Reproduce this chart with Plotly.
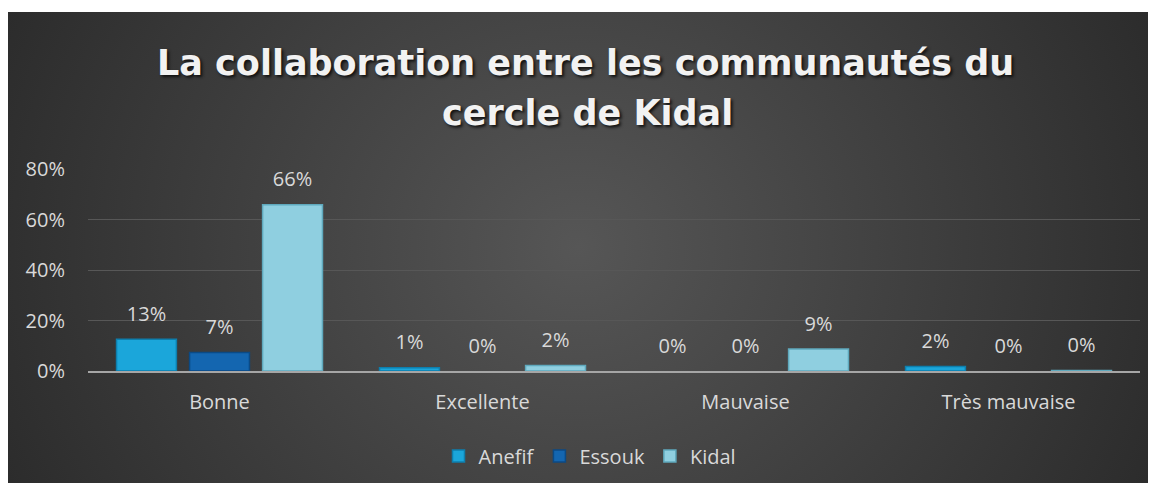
import base64
import plotly.graph_objects as go

categories = ["Bonne", "Excellente", "Mauvaise", "Très mauvaise"]
anefif = [0.126, 0.013, 0.0, 0.018]
essouk = [0.073, 0.0, 0.0, 0.0]
kidal = [0.658, 0.022, 0.087, 0.002]
series_names = ["Anefif", "Essouk", "Kidal"]
tick_vals = [0, 0.2, 0.4, 0.6, 0.8]
tick_text = ["0%", "20%", "40%", "60%", "80%"]

colors = ["#1ba6da", "#1466b0", "#8fcfe0"]
edge = ["#0d7fae", "#0b4a85", "#5fa9bd"]

# page body has an 8px margin: figure is placed at page (8, 8)
W, H = 1148, 481
ML, MR, MT, MB = 80, 16, 161, 118
PW, PH = W - ML - MR, H - MT - MB

svg = '''<svg xmlns="http://www.w3.org/2000/svg" width="1140" height="471" viewBox="0 0 1140 471" preserveAspectRatio="none">
<defs><radialGradient id="g" cx="50%" cy="50%" r="60%" gradientTransform="translate(0.5,0.5) scale(1,2.2) translate(-0.5,-0.5)">
<stop offset="0" stop-color="#565656"/><stop offset="1" stop-color="#282828"/></radialGradient></defs>
<rect width="1140" height="471" fill="url(#g)"/></svg>'''
src = "data:image/svg+xml;base64," + base64.b64encode(svg.encode()).decode()

FONT = "Open Sans"
TXT = "#d9d9d9"

fig = go.Figure()
for name, vals, c, e in zip(series_names, [anefif, essouk, kidal], colors, edge):
    fig.add_trace(go.Bar(
        name=name, x=categories, y=vals,
        marker=dict(color=c, line=dict(color=e, width=[1.5 if v > 0 else 0 for v in vals])),
        offsetgroup=name,
    ))
for name, vals in zip(series_names, [anefif, essouk, kidal]):
    fig.add_trace(go.Scatter(
        x=categories, y=vals, mode="markers+text",
        marker=dict(size=20, color="rgba(0,0,0,0)"),
        texttemplate="%{y:.0%}", textposition="top center",
        textfont=dict(family=FONT, size=20, color=TXT),
        showlegend=False, hoverinfo="skip", cliponaxis=False,
        offsetgroup=name,
    ))

# background panel (page x 8..1148, y 12..483 -> figure x 0..1140, y 4..475)
fig.add_layout_image(dict(
    source=src, xref="paper", yref="paper", x=(0 - ML) / PW, y=(H - MB - 4) / PH,
    sizex=1140 / PW, sizey=471 / PH, sizing="stretch",
    xanchor="left", yanchor="top", layer="below",
))

def py(page_y):
    return (H - MB - (page_y - 8)) / PH

def px(page_x):
    return ((page_x - 8) - ML) / PW

title_font = dict(family="DejaVu Sans", size=35, color="#f2f2f2", weight="bold",
                  shadow="2px 2px 3px #111111")
fig.add_annotation(text="La collaboration entre les communautés du", x=px(585), y=py(63),
                   xref="paper", yref="paper", showarrow=False, font=title_font,
                   xanchor="center", yanchor="middle")
fig.add_annotation(text="cercle de Kidal", x=px(587), y=py(113),
                   xref="paper", yref="paper", showarrow=False, font=title_font,
                   xanchor="center", yanchor="middle")

fig.update_layout(
    width=W, height=H,
    margin=dict(l=ML, r=MR, t=MT, b=MB),
    paper_bgcolor="white", plot_bgcolor="rgba(0,0,0,0)",
    barmode="group", bargap=0.167, bargroupgap=0.18,
    scattermode="group", scattergap=0.167,
    font=dict(family=FONT, size=20, color=TXT),
    showlegend=True,
    legend=dict(orientation="h", x=px(590), xanchor="center", y=py(456), yanchor="middle",
                font=dict(family=FONT, size=20, color=TXT),
                bgcolor="rgba(0,0,0,0)", itemwidth=30, tracegroupgap=0),
    xaxis=dict(showgrid=False, showline=True, linecolor="#a6a6a6", linewidth=2,
               ticks="", ticklabelstandoff=12,
               tickfont=dict(family=FONT, size=20, color=TXT)),
    yaxis=dict(range=[0, 0.8], tickvals=tick_vals, ticktext=tick_text,
               showgrid=True, gridcolor="#575757", gridwidth=1, zeroline=False,
               showline=False, ticks="", ticklabelstandoff=22,
               tickfont=dict(family=FONT, size=20, color=TXT)),
)

fig.write_html("out.html")
